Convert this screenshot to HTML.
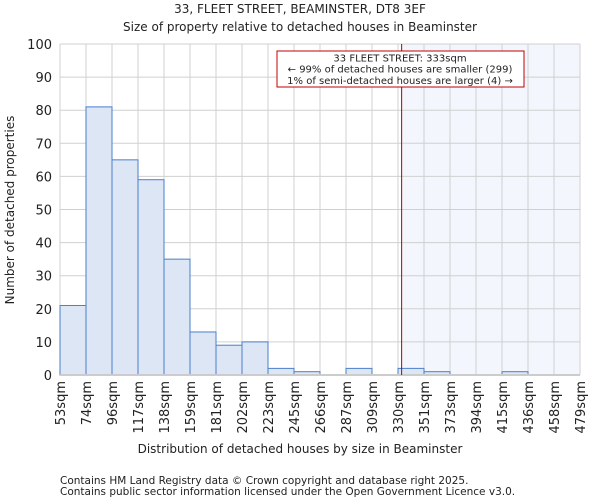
<!DOCTYPE html>
<html><head><meta charset="utf-8"><style>
body{margin:0;background:#fff;font-family:"DejaVu Sans","Liberation Sans",sans-serif}
svg text{font-family:"DejaVu Sans","Liberation Sans",sans-serif;fill:#222}
</style></head><body>
<svg id="chart" width="600" height="500" xmlns="http://www.w3.org/2000/svg">
<text x="300" y="13" text-anchor="middle" font-size="12">33, FLEET STREET, BEAMINSTER, DT8 3EF</text>
<text x="300" y="31" text-anchor="middle" font-size="12">Size of property relative to detached houses in Beaminster</text>
<g id="plot"></g>
<text x="300" y="453" text-anchor="middle" font-size="12">Distribution of detached houses by size in Beaminster</text>
<text transform="translate(14,210) rotate(-90)" text-anchor="middle" font-size="12">Number of detached properties</text>
<text x="60" y="484" font-size="10.5" fill="#444">Contains HM Land Registry data © Crown copyright and database right 2025.</text>
<text x="60" y="495" font-size="10.5" fill="#444">Contains public sector information licensed under the Open Government Licence v3.0.</text>
</svg>
<script>
const binLabels=["53sqm","74sqm","96sqm","117sqm","138sqm","159sqm","181sqm","202sqm","223sqm","245sqm","266sqm","287sqm","309sqm","330sqm","351sqm","373sqm","394sqm","415sqm","436sqm","458sqm","479sqm"];
const counts=[21,81,65,59,35,13,9,10,2,1,0,2,0,2,1,0,0,1,0,0];
const yTicks=[0,10,20,30,40,50,60,70,80,90,100];
const propertyIndex=13.14;
const NS="http://www.w3.org/2000/svg";
const L=60,R=580,T=44,B=375;
const n=counts.length;
const xs=i=>L+(R-L)*i/n;
const ys=v=>B-(B-T)*v/100;
const g=document.getElementById('plot');
function mk(t,a){const e=document.createElementNS(NS,t);for(const k in a)e.setAttribute(k,a[k]);g.appendChild(e);return e;}
const px=xs(propertyIndex);
let e=mk('rect',{x:px,y:T,width:R-px,height:B-T,fill:'#f3f6fd'});


for(const v of yTicks){
 e=mk('line',{x1:L,x2:R,y1:ys(v),y2:ys(v),stroke:'#d0d0d0','stroke-width':1});
 
 
 e=mk('text',{x:L-8,y:ys(v)+5,'text-anchor':'end','font-size':13});
 e.textContent=v;
 
 
}
for(let i=0;i<=n;i++){
 e=mk('line',{x1:xs(i),x2:xs(i),y1:T,y2:B,stroke:'#d0d0d0','stroke-width':1});
 
 
 const x=xs(i)+5;
 e=mk('text',{transform:`translate(${x},381) rotate(-90)`,'text-anchor':'end','font-size':13});
 e.textContent=binLabels[i];
 
 
}
counts.forEach((c,i)=>{
 if(c<=0)return;
 e=mk('rect',{x:xs(i),y:ys(c),width:xs(i+1)-xs(i),height:B-ys(c),fill:'#dce6f4',stroke:'#4a7fcb','stroke-width':1});
 
 
});
e=mk('line',{x1:L,x2:R,y1:B,y2:B,stroke:'#ccc','stroke-width':2});


e=mk('line',{x1:px,x2:px,y1:T,y2:B,stroke:'#b00000','stroke-width':1});


e=mk('rect',{x:277,y:51,width:247,height:36,fill:'#fff',stroke:'#c00000','stroke-width':1});


const ann=["33 FLEET STREET: 333sqm","← 99% of detached houses are smaller (299)","1% of semi-detached houses are larger (4) →"];
ann.forEach((t,i)=>{
 e=mk('text',{x:400,y:61.5+i*11.2,'text-anchor':'middle','font-size':10});
 e.textContent=t;
 
 
});
</script>
</body></html>
